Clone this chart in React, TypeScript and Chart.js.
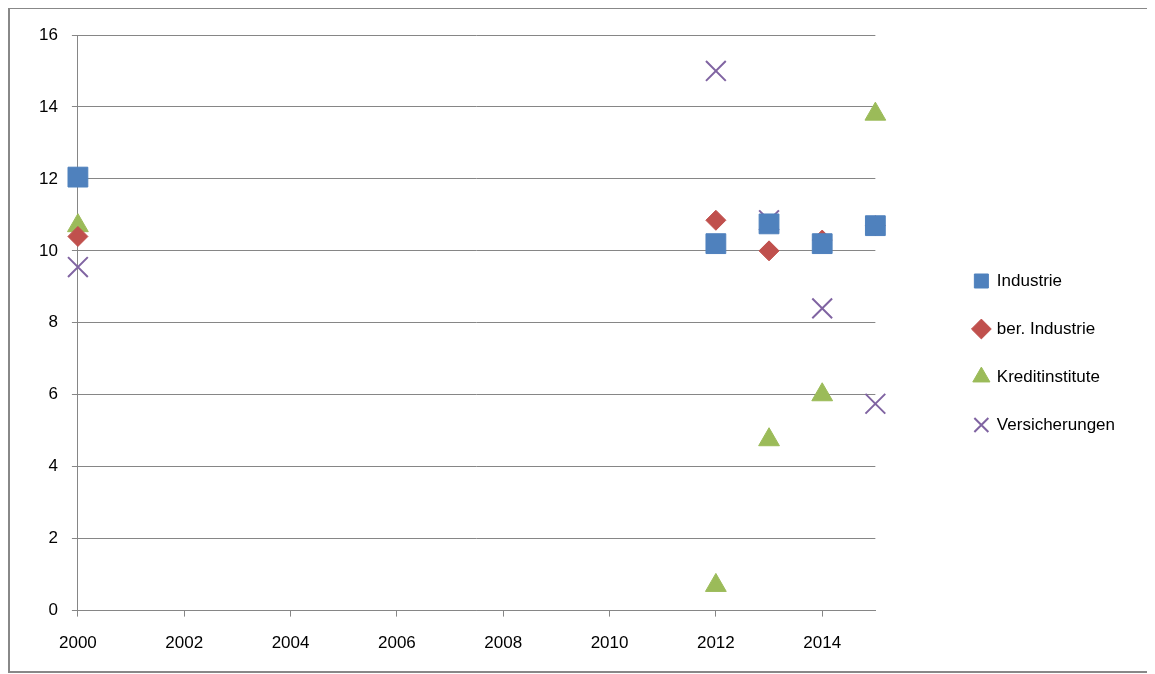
import React, { useEffect, useRef } from "react";
import { Chart, registerables } from "chart.js";
Chart.register(...registerables);

const years = [2000, 2012, 2013, 2014, 2015];
const industrie = [12.05, 10.2, 10.75, 10.2, 10.7];
const berIndustrie = [10.4, 10.85, 10.0, 10.3, 10.7];
const kredit = [10.7, 0.7, 4.75, 6.0, 13.8];
const versicherungen = [9.55, 15.0, 10.85, 8.4, 5.75];
const xTicks = [2000, 2002, 2004, 2006, 2008, 2010, 2012, 2014];

const pts = (v: number[]) => years.map((x, i) => ({ x, y: v[i] }));

export default function App() {
  const ref = useRef<HTMLCanvasElement>(null);
  useEffect(() => {
    const font = { family: "'Liberation Sans', Arial, sans-serif", size: 17 };
    const c = new Chart(ref.current!, {
      type: "scatter",
      data: {
        datasets: [
          { label: "Industrie", data: pts(industrie), pointStyle: "rect", pointRadius: 14, backgroundColor: "#4F81BD", borderColor: "#4F81BD" },
          { label: "ber. Industrie", data: pts(berIndustrie), pointStyle: "rectRot", pointRadius: 10, backgroundColor: "#C0504D", borderColor: "#C0504D" },
          { label: "Kreditinstitute", data: pts(kredit), pointStyle: "triangle", pointRadius: 12, backgroundColor: "#9BBB59", borderColor: "#9BBB59" },
          { label: "Versicherungen", data: pts(versicherungen), pointStyle: "crossRot", pointRadius: 14, borderWidth: 2, backgroundColor: "#8064A2", borderColor: "#8064A2" },
        ],
      },
      options: {
        animation: false,
        responsive: false,
        clip: false as any,
        layout: { padding: { left: 15, top: 26, right: 30, bottom: 0 } },
        plugins: {
          tooltip: { enabled: false },
          legend: {
            position: "right",
            labels: { usePointStyle: true, boxWidth: 14, boxHeight: 14, padding: 31, color: "#000", font },
          },
        },
        scales: {
          x: {
            type: "linear", min: 2000, max: 2015,
            afterBuildTicks: (s: any) => { s.ticks = xTicks.map((v) => ({ value: v })); },
            ticks: { autoSkip: false, maxRotation: 0, padding: 17, color: "#000", font, callback: (v: any) => String(v) },
            grid: { drawOnChartArea: false, tickLength: 6, color: "#868686" },
            border: { color: "#868686" },
          },
          y: {
            min: 0, max: 16,
            ticks: { stepSize: 2, color: "#000", font, padding: 14 },
            grid: { color: "#868686", tickLength: 6 },
            border: { color: "#868686" },
          },
          y2: {
            position: "right", min: 0, max: 16,
            ticks: { display: false },
            grid: { display: false },
            border: { display: false },
            afterFit: (s: any) => { s.width = 68; },
          },
        },
      },
    });
    return () => c.destroy();
  }, []);
  return (
    <div style={{ width: 1145, height: 662, border: "2px solid #888", marginTop: -1 }}>
      <canvas ref={ref} width={1145} height={662} />
    </div>
  );
}
